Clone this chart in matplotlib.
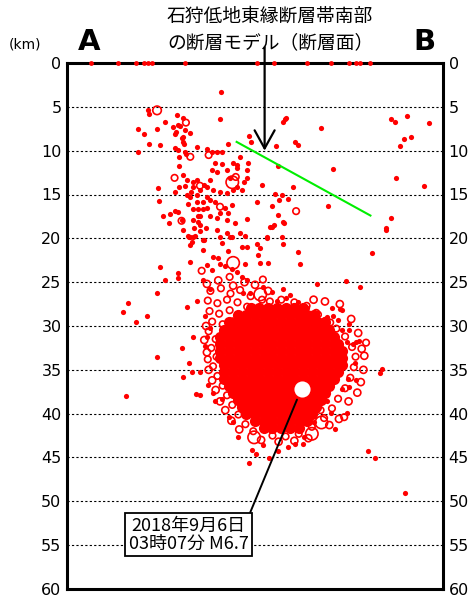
import matplotlib
matplotlib.use('Agg')
import matplotlib.pyplot as plt

plt.rcParams['font.family'] = ['DejaVu Sans']
JP = ['Noto Sans CJK JP', 'DejaVu Sans']

# depth axis (km)
depth_ticks = list(range(0, 61, 5))

# fault model (distance along A-B in km, depth in km)
fault_x = [19.4, 34.7]
fault_d = [9.0, 17.4]

# mainshock
main_x, main_d = 26.9, 37.2
main_label = '2018年9月6日\n03時07分 M6.7'

# events at the surface (depth 0)
surface_x = [2.7, 5.8, 7.9, 8.8, 9.3, 9.7, 13.5, 21.7, 23.7, 27.4, 30.2, 32.2, 33.1, 33.5, 34.7]

# small events (x km, depth km)
quakes_upper = [
    (9.3, 5.4), (9.4, 5.8), (12.6, 5.9), (13.3, 6.3), (11.2, 6.7), (12.1, 7.3), (12.7, 7.1),
    (13.5, 7.6), (12.5, 7.9), (12.3, 8.1), (8.1, 7.5), (8.8, 8.1), (10.3, 7.5), (9.4, 9.2),
    (10.6, 9.3), (13.1, 8.5), (13.3, 9.0), (13.4, 9.2), (12.3, 9.7), (12.7, 9.9), (12.8, 10.7),
    (13.6, 10.4), (14.9, 9.6), (16.0, 9.8), (8.1, 10.2), (12.8, 11.8), (13.3, 12.8), (13.7, 13.3),
    (14.4, 13.6), (14.9, 13.3), (15.7, 13.9), (14.4, 14.2), (13.5, 14.0), (12.8, 14.2), (10.4, 14.3),
    (10.5, 15.7), (12.3, 14.7), (13.7, 15.0), (14.2, 14.7), (14.9, 15.0), (15.2, 14.5), (15.5, 15.8),
    (16.0, 15.3), (13.8, 16.1), (14.9, 15.8), (15.5, 16.7), (15.0, 16.7), (14.4, 16.7), (16.0, 16.5),
    (11.0, 17.5), (11.8, 17.2), (12.3, 16.9), (12.7, 17.0), (15.0, 17.5), (15.0, 18.1), (14.5, 18.8),
    (15.2, 18.5), (11.7, 18.2), (13.3, 19.1), (13.9, 19.8), (14.4, 19.8), (15.2, 19.2), (14.3, 20.4),
    (15.7, 20.2), (17.6, 3.3), (17.5, 6.4), (12.9, 7.2), (14.1, 8.0), (13.3, 8.4), (16.6, 10.2),
    (17.1, 10.2), (17.7, 10.1), (18.4, 9.2), (13.5, 10.2), (16.9, 11.4), (17.7, 11.5), (19.0, 11.4),
    (19.8, 10.7), (19.4, 11.6), (20.7, 11.4), (20.8, 8.3), (21.0, 9.0), (16.6, 12.2), (17.1, 12.4),
    (18.3, 12.2), (19.4, 12.0), (20.6, 12.2), (18.6, 13.1), (20.6, 13.1), (20.2, 13.6), (16.0, 14.1),
    (16.3, 13.3), (16.7, 14.5), (17.5, 14.7), (18.3, 14.8), (19.0, 14.5), (19.4, 14.1), (20.0, 14.5),
    (22.3, 13.9), (21.7, 15.9), (23.2, 18.7), (14.1, 15.3), (16.3, 15.6), (16.9, 15.9), (18.1, 16.5),
    (18.9, 16.2), (18.4, 17.1), (17.5, 17.1), (13.1, 17.9), (14.4, 17.9), (15.2, 17.5), (16.3, 17.5),
    (17.1, 17.7), (18.3, 17.9), (19.2, 18.2), (20.6, 17.8), (19.8, 19.4), (20.3, 19.7), (18.6, 19.8),
    (17.5, 19.8), (14.1, 19.8), (15.9, 18.8),
]
quakes_right = [
    (24.9, 6.4), (25.1, 6.3), (24.7, 6.7), (29.0, 7.4), (26.1, 9.0), (26.4, 9.3), (23.9, 9.5),
    (24.1, 11.7), (30.4, 12.1), (37.6, 13.1), (25.8, 14.1), (23.8, 14.9), (24.6, 15.0), (24.2, 15.6),
    (25.3, 15.5), (23.5, 16.3), (29.9, 16.3), (24.1, 17.3), (24.7, 18.1), (24.8, 18.3), (23.4, 18.7),
    (23.7, 18.5), (22.9, 19.9), (24.6, 19.9), (37.1, 6.4), (37.5, 6.7), (38.9, 6.1), (41.4, 6.8),
    (38.5, 8.7), (39.3, 8.4), (38.1, 9.5), (40.8, 14.0), (37.0, 17.7), (36.5, 18.8),
]
quakes_mid = [
    (13.8, 19.7), (14.6, 19.7), (15.5, 20.2), (17.1, 19.0), (17.7, 20.5), (18.3, 19.4), (18.9, 19.9),
    (20.0, 21.0), (20.6, 21.0), (21.7, 20.7), (22.1, 21.1), (22.9, 20.0), (24.7, 20.7), (26.4, 21.6),
    (26.6, 22.9), (14.1, 20.8), (15.5, 21.3), (18.4, 21.5), (16.7, 22.1), (17.3, 22.2), (17.5, 22.9),
    (18.1, 23.2), (20.3, 22.9), (18.9, 23.5), (19.4, 23.8), (20.0, 24.4), (20.6, 24.7), (22.1, 22.8),
    (21.8, 21.9), (23.0, 22.8), (16.0, 23.0), (16.6, 23.6), (14.1, 22.7), (12.7, 23.9), (12.7, 24.5),
    (11.2, 24.7), (10.6, 23.3), (10.3, 26.2), (15.5, 24.7), (16.3, 25.8), (20.1, 26.2), (20.9, 26.2),
    (22.4, 25.6), (23.4, 26.1), (24.7, 25.8), (25.1, 26.8), (24.0, 27.2), (25.5, 27.8), (26.4, 27.3),
    (34.9, 21.7), (36.5, 19.0), (28.6, 25.2), (31.9, 24.9), (33.5, 25.6), (25.5, 26.5), (27.4, 28.0),
    (26.9, 28.4), (30.3, 28.0), (31.2, 28.1), (31.5, 28.2), (30.4, 28.9), (29.7, 29.0), (31.0, 29.3),
    (28.9, 29.3), (27.0, 29.0), (32.3, 29.8), (32.3, 30.5), (31.4, 30.4), (33.1, 31.8), (33.4, 31.7),
    (32.7, 32.1), (32.0, 31.8), (36.0, 34.9), (35.8, 35.4), (32.9, 34.2), (32.1, 36.0),
]
quakes_lower = [
    (13.7, 27.8), (14.4, 31.3), (13.1, 32.5), (10.3, 33.5), (13.9, 34.2), (15.2, 35.2), (13.3, 35.8),
    (15.8, 32.3), (16.0, 31.2), (14.9, 27.2), (15.8, 28.9), (16.3, 30.2), (7.0, 27.4), (6.4, 28.4),
    (7.9, 29.5), (9.1, 28.9), (6.7, 38.0), (14.3, 35.2), (16.1, 36.7), (14.7, 37.7), (15.2, 37.9),
    (16.7, 37.6), (16.9, 38.6), (17.7, 38.3), (18.5, 40.4), (19.0, 41.0), (19.5, 42.7), (21.1, 44.2),
    (21.6, 44.6), (20.8, 45.6), (23.1, 45.1), (22.4, 43.6), (24.1, 44.3), (25.3, 43.8), (26.1, 43.5),
    (33.0, 36.2), (32.3, 37.0), (31.4, 37.2), (29.7, 38.6), (30.2, 39.9), (32.0, 39.9), (30.7, 41.7),
    (28.3, 41.0), (27.0, 43.5), (27.1, 42.7), (34.4, 44.3), (35.2, 45.1), (38.6, 49.1),
]

# larger events drawn as open circles
rings_small = [
    (13.6, 6.8), (14.1, 10.7), (16.2, 10.5), (12.3, 13.1), (15.2, 14.0), (19.3, 13.0), (17.5, 16.4),
    (13.1, 18.0), (26.2, 16.9), (15.4, 23.7), (18.6, 24.4), (22.4, 24.7), (28.7, 28.7), (30.1, 29.6),
    (34.2, 31.9), (16.1, 33.8), (28.7, 38.7), (29.0, 39.6), (31.7, 40.4), (27.0, 40.9),
    (16.4, 26.0), (17.6, 25.7), (18.7, 26.3), (19.8, 25.9), (21.0, 26.6), (22.3, 27.0), (16.1, 27.1),
    (17.2, 27.4), (18.3, 27.0), (19.5, 27.3), (20.6, 27.8), (21.8, 28.1), (16.3, 28.3), (17.4, 28.6),
    (18.6, 28.2), (19.6, 28.7), (16.6, 29.5), (17.8, 29.8), (16.2, 30.6), (17.0, 31.5), (16.5, 32.5),
    (17.1, 33.5), (16.7, 34.6), (17.2, 35.7), (17.8, 36.8), (18.3, 37.9), (18.9, 39.0), (19.6, 40.1),
    (20.4, 41.2), (21.3, 42.0), (23.5, 42.5), (25.0, 42.6), (26.5, 42.3), (28.0, 41.5), (29.4, 40.5),
    (30.3, 39.4), (31.0, 38.3), (31.8, 37.1), (32.4, 35.9), (32.8, 34.7), (33.0, 33.5), (32.6, 32.4),
    (31.8, 31.2), (30.8, 30.3), (29.6, 29.4), (28.5, 28.5), (27.4, 27.7), (26.0, 27.3), (24.5, 27.0),
    (23.2, 27.2),
]
rings_fringe = [
    (15.9, 30.0), (15.7, 31.6), (16.0, 33.0), (16.2, 35.0), (16.6, 36.2), (17.0, 37.3), (17.5, 38.6),
    (18.1, 39.6), (18.8, 40.8), (19.7, 41.8), (22.2, 43.0), (24.2, 43.2), (26.0, 43.1), (27.6, 42.8),
    (30.0, 41.3), (31.1, 40.6), (32.2, 38.6), (33.2, 37.6), (33.6, 36.4), (33.9, 35.0), (34.0, 33.4),
    (33.7, 32.6), (33.3, 30.8), (32.5, 29.2), (31.2, 27.5), (29.5, 27.2), (28.2, 27.0), (23.0, 26.0),
    (21.5, 25.3), (20.3, 25.0), (19.0, 25.4), (17.3, 24.8), (16.0, 25.2), (20.5, 29.0), (19.0, 29.5),
]
rings_mid = [(10.3, 5.4)]
rings_big = [(18.9, 13.6), (19.0, 22.8), (22.1, 26.4), (21.4, 42.7), (29.1, 41.0), (28.0, 42.3)]

# dense swarm core: rows of (depth, distances)
core_rows = [
    (28.0, [21, 22, 23, 24, 25, 26, 27]),
    (28.8, [19.5, 20.5, 21.5, 22.5, 23.5, 24.5, 25.5, 26.5, 27.5, 28.3]),
    (29.6, [18.5, 19.5, 20.5, 21.5, 22.5, 23.5, 24.5, 25.5, 26.5, 27.5, 28.5, 29.5]),
    (30.4, [18, 19, 20, 21, 22, 23, 24, 25, 26, 27, 28, 29, 30]),
    (31.2, [17.5, 18.5, 19.5, 20.5, 21.5, 22.5, 23.5, 24.5, 25.5, 26.5, 27.5, 28.5, 29.5, 30.5]),
    (32.0, [17.5, 18.5, 19.5, 20.5, 21.5, 22.5, 23.5, 24.5, 25.5, 26.5, 27.5, 28.5, 29.5, 30.5, 31]),
    (32.8, [17.5, 18.5, 19.5, 20.5, 21.5, 22.5, 23.5, 24.5, 25.5, 26.5, 27.5, 28.5, 29.5, 30.5, 31.5]),
    (33.6, [17.5, 18.5, 19.5, 20.5, 21.5, 22.5, 23.5, 24.5, 25.5, 26.5, 27.5, 28.5, 29.5, 30.5, 31.5]),
    (34.4, [18, 19, 20, 21, 22, 23, 24, 25, 26, 27, 28, 29, 30, 31, 31.5]),
    (35.2, [18, 19, 20, 21, 22, 23, 24, 25, 26, 27, 28, 29, 30, 31]),
    (36.0, [18, 19, 20, 21, 22, 23, 24, 25, 26, 27, 28, 29, 30, 30.5]),
    (36.8, [18.5, 19.5, 20.5, 21.5, 22.5, 23.5, 24.5, 25.5, 26.5, 27.5, 28.5, 29.5, 30]),
    (37.6, [19, 20, 21, 22, 23, 24, 25, 26, 27, 28, 29, 29.5]),
    (38.4, [19.5, 20.5, 21.5, 22.5, 23.5, 24.5, 25.5, 26.5, 27.5, 28.5, 29]),
    (39.2, [20, 21, 22, 23, 24, 25, 26, 27, 28, 28.5]),
    (40.0, [20.5, 21.5, 22.5, 23.5, 24.5, 25.5, 26.5, 27.5, 28]),
    (40.8, [21.5, 22.5, 23.5, 24.5, 25.5, 26.5, 27.5]),
    (41.6, [22.5, 23.5, 24.5, 25.5, 26.5]),
]

RED = '#ff0000'

fig = plt.figure(figsize=(4.73, 5.99), dpi=100)
ax = fig.add_axes([67 / 473, 1 - 589 / 599, 376 / 473, 526 / 599])
ax.set_xlim(0, 43)
ax.set_ylim(60, 0)

for d in depth_ticks[1:-1]:
    ax.axhline(d, color='k', lw=0.8, ls=(0, (2, 2)), zorder=1)

# dense core
cx = [x for d, xs in core_rows for x in xs]
cd = [d for d, xs in core_rows for x in xs]
ax.scatter(cx, cd, s=65, color=RED, lw=0, zorder=2)

small = quakes_upper + quakes_right + quakes_mid + quakes_lower
ax.scatter([p[0] for p in small], [p[1] for p in small], s=14, color=RED, lw=0, zorder=3)

for pts, size in [(rings_small, 22), (rings_fringe, 26), (rings_mid, 38), (rings_big, 80)]:
    ax.scatter([p[0] for p in pts], [p[1] for p in pts], s=size, facecolors='none',
               edgecolors=RED, lw=1.2, zorder=3)

ax.scatter(surface_x, [0] * len(surface_x), s=12, color=RED, lw=0, zorder=6, clip_on=False)

ax.plot(fault_x, fault_d, color='#00ee00', lw=1.5, zorder=4)

ax.scatter([main_x], [main_d], s=135, color='white', lw=0, zorder=5)

ax.annotate(main_label, xy=(26.3, 38.4), xytext=(13.9, 53.8), textcoords='data',
            ha='center', va='center', fontsize=13, family=JP, linespacing=1.0,
            bbox=dict(boxstyle='square,pad=0.2', fc='white', ec='k', lw=1.3),
            arrowprops=dict(arrowstyle='-', color='k', lw=1.4, relpos=(1, 1),
                            shrinkA=0, shrinkB=0),
            zorder=7)

# arrow pointing to fault model
ax.annotate('', xy=(22.6, 10.0), xytext=(22.6, -1.8),
            arrowprops=dict(arrowstyle='->,head_length=0.65,head_width=0.36', color='k',
                            lw=1.6, mutation_scale=20, shrinkA=0, shrinkB=0),
            annotation_clip=False, zorder=7)

ax.set_xticks([])
ax.set_yticks(depth_ticks)
ax.tick_params(axis='y', length=0, labelsize=11.5, pad=4, left=True, right=True,
               labelleft=True, labelright=True)
for sp in ax.spines.values():
    sp.set_linewidth(2.2)

fig.text(167 / 473, 1 - 16 / 599, '石狩低地東縁断層帯南部', fontsize=13.5, family=JP,
         ha='left', va='center')
fig.text(167 / 473, 1 - 43 / 599, 'の断層モデル（断層面）', fontsize=13.5, family=JP,
         ha='left', va='center')
fig.text(25 / 473, 1 - 45 / 599, '(km)', fontsize=10, ha='center', va='center')
fig.text(89 / 473, 1 - 42 / 599, 'A', fontsize=21, fontweight='bold', ha='center', va='center')
fig.text(424 / 473, 1 - 42 / 599, 'B', fontsize=21, fontweight='bold', ha='center', va='center')

fig.savefig('out.png', dpi=100)
